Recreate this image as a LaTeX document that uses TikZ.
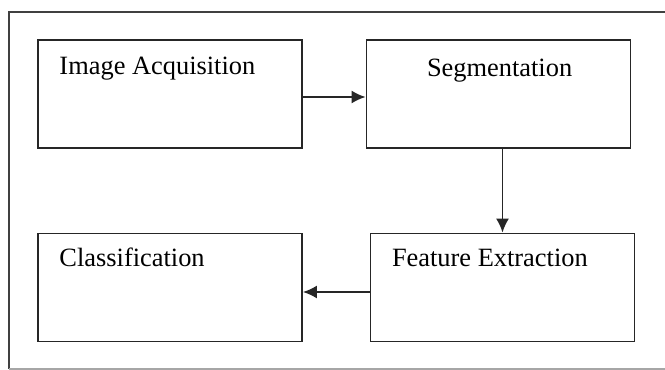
\documentclass[tikz,border=0pt]{standalone}
\usepackage{fontspec}
\setmainfont{Liberation Serif}
\usetikzlibrary{arrows.meta}

\begin{document}
\begin{tikzpicture}[x=0.5pt,y=-0.5pt,-{Latex[length=7pt,width=6.5pt]}]
	\tikzstyle{stage} = [rectangle,draw=black!85,line width=0.9pt,minimum width=132pt,minimum height=54pt,inner sep=0pt]
	\tikzstyle{caption} = [anchor=base west,inner sep=0pt,font=\fontsize{13.2}{15}\selectfont]
	\tikzstyle{flow} = [black!85,line width=0.9pt]

	\useasboundingbox (0,0) rectangle (665,370);
	\draw[-,black!75,line width=0.9pt] (665,12) -- (9,12) -- (9,369);
	\draw[-,black!35,line width=0.6pt] (9,369) -- (665,369);

	\node[stage] (acq) at (170,94) {};
	\node[stage] (seg) at (498.5,94) {};
	\node[stage] (feat) at (502.5,287.5) {};
	\node[stage] (cls) at (170,287.5) {};

	\node[caption] (acqtext) at ([xshift=11pt,yshift=-17.5pt]acq.north west) {Image Acquisition};
	\node[caption] (segtext) at ([xshift=30.5pt,yshift=-18.5pt]seg.north west) {Segmentation};
	\node[caption] (feattext) at ([xshift=11pt,yshift=-17pt]feat.north west) {Feature Extraction};
	\node[caption] (clstext) at ([xshift=11pt,yshift=-17pt]cls.north west) {Classification};

	\path ([yshift=-1.5pt]acq.east) edge[flow] ([yshift=-1.5pt]seg.west);
	\path (feat.north |- seg.south) edge[flow] (feat.north);
	\path ([yshift=-2.25pt]feat.west) edge[flow] ([yshift=-2.25pt]cls.east);
\end{tikzpicture}
\end{document}
